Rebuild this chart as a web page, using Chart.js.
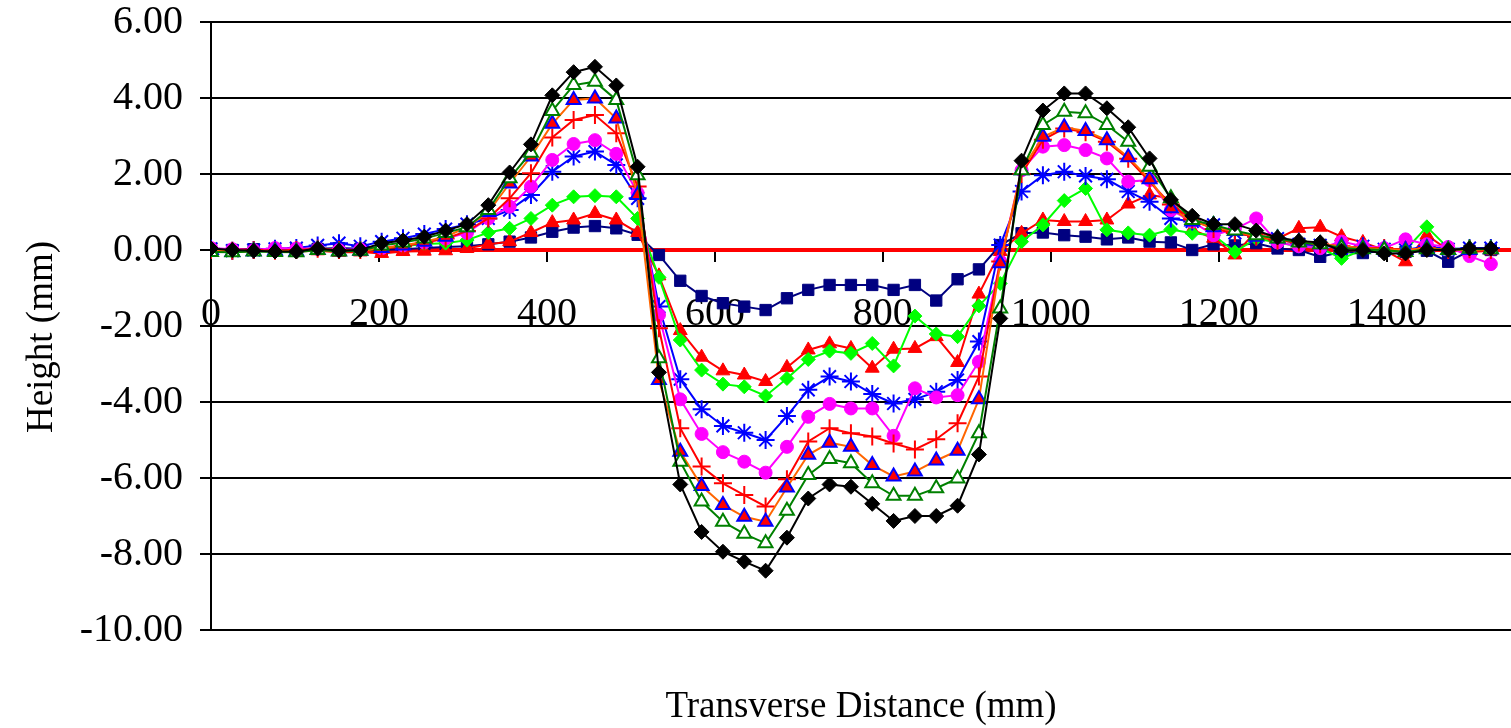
<!DOCTYPE html>
<html>
<head>
<meta charset="utf-8">
<title>Height vs Transverse Distance</title>
<script src="https://cdn.jsdelivr.net/npm/chart.js@4/dist/chart.umd.min.js"></script>
<style>
    html, body { margin: 0; padding: 0; background: #fff; }
    #wrap { width: 1511px; height: 728px; position: relative; }
</style>
</head>
<body>
<div id="wrap"><canvas id="profileChart"></canvas></div>
<script>
// transverse positions (mm), one reading every inch
const distances = [0, 25.4, 50.8, 76.2, 101.6, 127, 152.4, 177.8, 203.2, 228.6, 254, 279.4, 304.8, 330.2, 355.6,
    381, 406.4, 431.8, 457.2, 482.6, 508, 533.4, 558.8, 584.2, 609.6, 635, 660.4, 685.8, 711.2, 736.6, 762,
    787.4, 812.8, 838.2, 863.6, 889, 914.4, 939.8, 965.2, 990.6, 1016, 1041.4, 1066.8, 1092.2, 1117.6, 1143,
    1168.4, 1193.8, 1219.2, 1244.6, 1270, 1295.4, 1320.8, 1346.2, 1371.6, 1397, 1422.4, 1447.8, 1473.2, 1498.6, 1524];

const xTicks = [0, 200, 400, 600, 800, 1000, 1200, 1400];
const yTicks = [-10, -8, -6, -4, -2, 0, 2, 4, 6];

// reference (zero) line
const baseX = [0, 1600];
const baseY = [0, 0];

const navySquares = [0.03, 0.00, 0.02, 0.00, 0.02, 0.03, 0.05, 0.03,
    0.00, 0.02, 0.05, 0.08, 0.10, 0.15, 0.22, 0.33, 0.48, 0.59, 0.63, 0.57, 0.40,
    -0.13, -0.81, -1.21, -1.40, -1.49, -1.58, -1.27, -1.05, -0.92, -0.92, -0.92, -1.05, -0.92, -1.33, -0.77, -0.51, 0.13,
    0.44, 0.46, 0.39, 0.35, 0.28, 0.33, 0.22, 0.20, 0.00, 0.15, 0.12,
    0.18, 0.04, 0.00, -0.18, -0.05, -0.08, -0.02, -0.05, -0.02, -0.31, -0.02, 0.00];

const redTriangles = [0.00, -0.03, -0.02, 0.00, -0.04, -0.02, -0.06, -0.05,
    -0.09, -0.04, -0.03, -0.02, 0.04, 0.15, 0.22, 0.46, 0.72, 0.79, 0.96, 0.79, 0.46,
    -0.68, -2.12, -2.82, -3.18, -3.29, -3.46, -3.09, -2.63, -2.47, -2.59, -3.11, -2.61, -2.59, -2.28, -2.96, -1.16, -0.04,
    0.44, 0.79, 0.75, 0.75, 0.79, 1.21, 1.45, 1.36, 0.53, 0.31, -0.13,
    0.50, 0.30, 0.57, 0.60, 0.35, 0.20, 0.00, -0.31, 0.39, 0.00, -0.05, -0.02];

const limeDiamonds = [0.00, -0.04, -0.02, -0.03, -0.05, 0.02, 0.00, -0.02,
    0.05, 0.10, 0.16, 0.18, 0.26, 0.46, 0.57, 0.83, 1.18, 1.40, 1.43, 1.40, 0.83,
    -0.72, -2.37, -3.16, -3.53, -3.60, -3.84, -3.38, -2.88, -2.66, -2.72, -2.46, -3.05, -1.74, -2.21, -2.28, -1.47, -0.88,
    0.22, 0.66, 1.30, 1.62, 0.53, 0.45, 0.39, 0.54, 0.44, 0.39, -0.05,
    0.30, 0.20, 0.10, 0.05, -0.22, 0.00, -0.05, 0.00, 0.61, 0.05, 0.00, 0.02];

const blueStars = [0.03, -0.02, 0.00, 0.03, 0.05, 0.12, 0.18, 0.10,
    0.22, 0.31, 0.42, 0.55, 0.68, 0.83, 1.05, 1.45, 2.06, 2.46, 2.59, 2.24, 1.36,
    -1.49, -3.40, -4.19, -4.63, -4.81, -5.00, -4.37, -3.68, -3.33, -3.46, -3.79, -4.04, -3.93, -3.73, -3.42, -2.41, 0.13,
    1.54, 1.97, 2.06, 1.95, 1.86, 1.54, 1.27, 0.83, 0.75, 0.66, 0.45,
    0.35, 0.30, 0.15, 0.12, 0.05, 0.10, 0.02, 0.00, 0.10, 0.02, 0.05, 0.05];

const magentaCircles = [0.05, 0.02, 0.00, 0.05, 0.04, 0.03, 0.00, 0.02,
    0.05, 0.12, 0.20, 0.30, 0.45, 0.83, 1.14, 1.67, 2.37, 2.79, 2.89, 2.53, 1.50,
    -1.71, -3.93, -4.84, -5.32, -5.57, -5.86, -5.18, -4.39, -4.05, -4.17, -4.17, -4.89, -3.64, -3.88, -3.82, -2.94, -0.30,
    2.10, 2.72, 2.76, 2.63, 2.41, 1.80, 1.84, 1.05, 0.75, 0.39, 0.55,
    0.83, 0.20, 0.10, 0.05, 0.22, 0.10, 0.05, 0.28, 0.15, 0.08, -0.16, -0.37];

const redPlus = [0.00, -0.02, 0.00, -0.02, 0.00, 0.03, 0.00, 0.00,
    0.05, 0.10, 0.20, 0.30, 0.50, 0.83, 1.36, 2.02, 2.96, 3.42, 3.55, 3.07, 1.67,
    -2.06, -4.69, -5.70, -6.14, -6.45, -6.75, -6.03, -5.04, -4.69, -4.82, -4.91, -5.09, -5.25, -4.98, -4.56, -3.33, -0.30,
    2.00, 2.90, 3.20, 3.10, 2.85, 2.40, 1.80, 1.20, 0.80, 0.55, 0.45,
    0.35, 0.25, 0.20, 0.15, 0.10, 0.05, 0.05, 0.00, 0.05, 0.00, 0.02, 0.00];

const orangeTriangles = [0.00, -0.05, -0.03, -0.02, -0.04, 0.00, -0.03, -0.02,
    0.05, 0.12, 0.22, 0.35, 0.60, 1.00, 1.75, 2.46, 3.32, 3.95, 3.99, 3.46, 1.45,
    -3.42, -5.31, -6.21, -6.71, -7.02, -7.15, -6.25, -5.39, -5.07, -5.18, -5.66, -5.96, -5.83, -5.54, -5.28, -3.93, -0.35,
    2.10, 2.98, 3.23, 3.13, 2.89, 2.44, 1.86, 1.10, 0.75, 0.60, 0.50,
    0.35, 0.30, 0.22, 0.15, 0.10, 0.05, 0.02, 0.00, 0.05, 0.00, 0.00, 0.02];

const greenOpenTriangles = [-0.05, -0.06, -0.04, -0.05, -0.06, 0.00, -0.04, -0.02,
    0.12, 0.20, 0.30, 0.45, 0.60, 1.05, 1.89, 2.56, 3.66, 4.34, 4.43, 3.95, 1.97,
    -2.85, -5.57, -6.62, -7.15, -7.47, -7.72, -6.86, -5.92, -5.50, -5.61, -6.14, -6.47, -6.47, -6.27, -6.01, -4.82, -1.54,
    2.10, 3.29, 3.64, 3.60, 3.29, 2.85, 2.19, 1.36, 0.79, 0.66, 0.51,
    0.39, 0.30, 0.20, 0.15, 0.05, 0.02, 0.00, -0.05, 0.02, 0.00, 0.03, 0.02];

const blackDiamonds = [0.04, 0.00, -0.02, -0.04, -0.04, 0.04, -0.02, 0.00,
    0.18, 0.25, 0.35, 0.51, 0.68, 1.18, 2.04, 2.78, 4.07, 4.68, 4.82, 4.33, 2.19,
    -3.22, -6.17, -7.42, -7.94, -8.20, -8.44, -7.57, -6.54, -6.17, -6.23, -6.68, -7.13, -7.00, -7.00, -6.73, -5.38, -1.80,
    2.35, 3.67, 4.12, 4.12, 3.73, 3.23, 2.41, 1.32, 0.90, 0.68, 0.68,
    0.51, 0.33, 0.24, 0.20, -0.02, 0.00, -0.09, -0.09, 0.00, 0.00, 0.04, 0.04];

const serif = '"Liberation Serif", "Times New Roman", serif';

function pts(values) {
    return values.map((v, i) => ({ x: distances[i], y: v }));
}

function series(values, line, style, order) {
    return Object.assign({
        data: pts(values),
        borderColor: line,
        borderWidth: 2,
        tension: 0,
        fill: false,
        pointBorderWidth: 2,
        order: order
    }, style);
}

// draws the two axis titles outside the plot
const axisTitles = {
    id: 'axisTitles',
    afterDraw(chart) {
        const ctx = chart.ctx;
        const area = chart.chartArea;
        ctx.save();
        ctx.fillStyle = '#000';
        ctx.font = '37px ' + serif;
        ctx.textAlign = 'center';
        ctx.textBaseline = 'alphabetic';
        ctx.fillText('Transverse Distance (mm)', (area.left + area.right) / 2, 717);
        ctx.translate(52, 337);
        ctx.rotate(-Math.PI / 2);
        ctx.fillText('Height (mm)', 0, 0);
        ctx.restore();
    }
};

document.addEventListener('DOMContentLoaded', function() {
    const ctx = document.getElementById('profileChart').getContext('2d');

    new Chart(ctx, {
        type: 'line',
        data: {
            datasets: [
                {
                    data: baseX.map((x, i) => ({ x: x, y: baseY[i] })),
                    borderColor: '#ff0000',
                    borderWidth: 4,
                    pointRadius: 0,
                    order: 10
                },
                series(navySquares, '#000080', { pointStyle: 'rect', pointRadius: 8, pointBackgroundColor: '#000080', pointBorderColor: '#000080', pointBorderWidth: 1 }, 9),
                series(redTriangles, '#ff0000', { pointStyle: 'triangle', pointRadius: 8, pointBackgroundColor: '#ff0000', pointBorderColor: '#ff0000', pointBorderWidth: 1 }, 8),
                series(limeDiamonds, '#00ff00', { pointStyle: 'rectRot', pointRadius: 7, pointBackgroundColor: '#00ff00', pointBorderColor: '#00ff00', pointBorderWidth: 1 }, 7),
                series(blueStars, '#0000ff', { pointStyle: 'star', pointRadius: 9, pointBackgroundColor: '#0000ff', pointBorderColor: '#0000ff' }, 6),
                series(magentaCircles, '#ff00ff', { pointStyle: 'circle', pointRadius: 6.5, pointBackgroundColor: '#ff00ff', pointBorderColor: '#ff00ff', pointBorderWidth: 1 }, 5),
                series(redPlus, '#ff0000', { pointStyle: 'cross', pointRadius: 9, pointBackgroundColor: '#ff0000', pointBorderColor: '#ff0000' }, 4),
                series(orangeTriangles, '#ff6600', { pointStyle: 'triangle', pointRadius: 8, pointBackgroundColor: '#ff0000', pointBorderColor: '#0000ff' }, 3),
                series(greenOpenTriangles, '#008000', { pointStyle: 'triangle', pointRadius: 8, pointBackgroundColor: '#ffffff', pointBorderColor: '#008000' }, 2),
                series(blackDiamonds, '#000000', { pointStyle: 'rectRot', pointRadius: 7.5, pointBackgroundColor: '#000000', pointBorderColor: '#000000', pointBorderWidth: 1 }, 1)
            ]
        },
        options: {
            responsive: true,
            maintainAspectRatio: false,
            animation: false,
            layout: { autoPadding: false, padding: { left: 0, right: 0, top: 22, bottom: 98 } },
            plugins: {
                legend: { display: false },
                tooltip: { enabled: false }
            },
            scales: {
                x: {
                    type: 'linear',
                    min: 0,
                    max: 1548,
                    position: { y: 0 },
                    afterBuildTicks: function(scale) {
                        scale.ticks = xTicks.map(v => ({ value: v }));
                    },
                    afterFit: function(scale) {
                        scale.height = 0;
                        scale.paddingLeft = 0;
                        scale.paddingRight = 0;
                    },
                    grid: { drawOnChartArea: false, color: '#000', lineWidth: 2, tickLength: 11 },
                    border: { color: '#000', width: 2 },
                    ticks: {
                        color: '#000',
                        font: { family: serif, size: 40 },
                        padding: 29,
                        maxRotation: 0,
                        autoSkip: false,
                        callback: function(value) { return String(value); }
                    }
                },
                y: {
                    min: -10,
                    max: 6,
                    afterBuildTicks: function(scale) {
                        scale.ticks = yTicks.map(v => ({ value: v }));
                    },
                    afterFit: function(scale) {
                        scale.width = 211;
                        scale.paddingTop = 0;
                        scale.paddingBottom = 0;
                    },
                    grid: { color: '#000', lineWidth: 2, tickLength: 11 },
                    border: { color: '#000', width: 2 },
                    ticks: {
                        color: '#000',
                        font: { family: serif, size: 40 },
                        padding: 17,
                        callback: function(value) { return Number(value).toFixed(2); }
                    }
                }
            }
        },
        plugins: [axisTitles]
    });
});
</script>
</body>
</html>
